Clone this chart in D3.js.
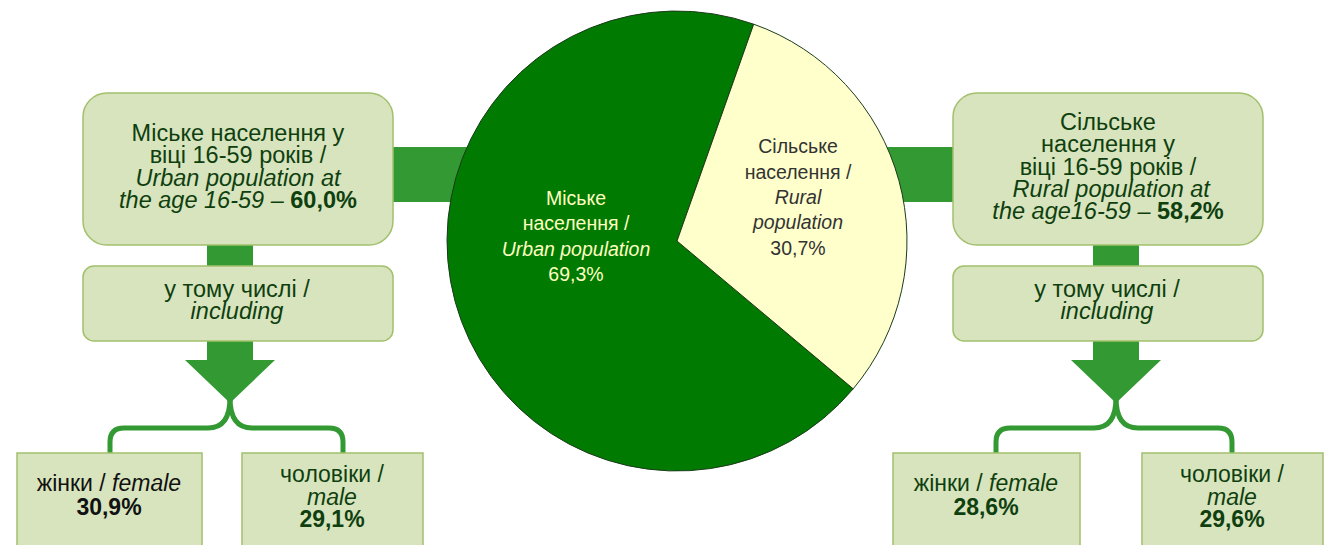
<!DOCTYPE html>
<html>
<head>
<meta charset="utf-8">
<script src="https://cdn.jsdelivr.net/npm/d3@7"></script>
<style>
    body { margin: 0; background: #fff; }
    svg { display: block; font-family: "Liberation Sans", Arial, sans-serif; }
</style>
</head>
<body>
<div id="chart"></div>
<script>
// pie: share of urban / rural population
var pieCategories = ["urban", "rural"];
var pieLabels = [
    [["Міське", "n"], ["населення /", "n"], ["Urban population", "i"]],
    [["Сільське", "n"], ["населення /", "n"], ["Rural", "i"], ["population", "i"]]
];
var pieValues = [69.3, 30.7];

// side panels: population aged 16-59, then split by sex
var ageShare = [60.0, 58.2];
var femaleShare = [30.9, 28.6];
var maleShare = [29.1, 29.6];
var ageTitles = [
    [[["Міське населення у", "n"]], [["віці 16-59 років /", "n"]], [["Urban population at", "i"]], [["the age 16-59 – ", "i"]]],
    [[["Сільське", "n"]], [["населення у", "n"]], [["віці 16-59 років /", "n"]], [[" Rural population at", "i"]], [["the age16-59  – ", "i"]]]
];
var includingText = [[["у тому числі /", "n"]], [["including", "i"]]];
var femaleText = [["жінки / ", "n"], ["female", "i"]];
var maleText = [[["чоловіки /", "n"]], [["male", "i"]]];

var fmt = function(v){ return d3.format(".1f")(v).replace(".", ",") + "%"; };

var width = 1330, height = 545;
var green = "#339933", boxFill = "#d7e4bd", boxStroke = "#a3c06d", textColor = "#0f3f0f";
var boxFont = 23.5;

var svg = d3.select("#chart")
    .append("svg")
        .attr("width", width)
        .attr("height", height);

// layout of the two side panels
var panels = [
    { boxX: 83, boxW: 310, stem: 230, fem: [17, 185], mal: [242, 181], femTx: 109, malTx: 332, brL: 110, brR: 343, femColor: "#111" },
    { boxX: 953, boxW: 310, stem: 1116, fem: [893, 187], mal: [1142, 181], femTx: 986, malTx: 1232, brL: 996, brR: 1232, femColor: textColor }
];

var pieCx = 677, pieCy = 241, pieR = 230;

// horizontal bars linking pie and panels (drawn under the pie)
svg.append("rect").attr("x", panels[0].boxX + panels[0].boxW).attr("y", 147)
    .attr("width", pieCx - (panels[0].boxX + panels[0].boxW)).attr("height", 55).attr("fill", green);
svg.append("rect").attr("x", pieCx).attr("y", 147)
    .attr("width", panels[1].boxX - pieCx).attr("height", 55).attr("fill", green);

function addLines(g, lines, x, y0, lh, size, color){
    var t = g.append("text")
        .attr("x", x)
        .attr("text-anchor", "middle")
        .attr("font-size", size)
        .attr("fill", color);
    lines.forEach(function(line, i){
        line.forEach(function(seg, j){
            var s = t.append("tspan").text(seg[0])
                .attr("font-style", seg[1] == "i" ? "italic" : "normal")
                .attr("font-weight", seg[1] == "b" ? "bold" : "normal");
            if (j == 0) s.attr("x", x).attr("y", y0 + i * lh);
        });
    });
    return t;
}

panels.forEach(function(p, k){
    var g = svg.append("g");
    var cx = p.boxX + p.boxW / 2;

    // stem from top box down to "including" box
    g.append("rect").attr("x", p.stem - 23).attr("y", 240).attr("width", 46).attr("height", 30).attr("fill", green);

    // big arrow below "including"
    g.append("path")
        .attr("d", "M" + (p.stem - 23) + ",338 V360 H" + (p.stem - 45) + " L" + p.stem + ",403 L" + (p.stem + 45) + ",360 H" + (p.stem + 23) + " V338 Z")
        .attr("fill", green);

    // split brackets
    g.append("path")
        .attr("d", "M" + p.stem + ",398 Q" + p.stem + ",428 " + (p.stem - 22) + ",428 H" + (p.brL + 14) + " Q" + p.brL + ",428 " + p.brL + ",442 V456")
        .attr("fill", "none").attr("stroke", green).attr("stroke-width", 5);
    g.append("path")
        .attr("d", "M" + p.stem + ",398 Q" + p.stem + ",428 " + (p.stem + 22) + ",428 H" + (p.brR - 14) + " Q" + p.brR + ",428 " + p.brR + ",442 V456")
        .attr("fill", "none").attr("stroke", green).attr("stroke-width", 5);

    // top box
    g.append("rect")
        .attr("x", p.boxX).attr("y", 93).attr("width", p.boxW).attr("height", 152)
        .attr("rx", 24)
        .attr("fill", boxFill).attr("stroke", boxStroke).attr("stroke-width", 1.5);
    var title = ageTitles[k].map(function(l){ return l.slice(); });
    title[title.length - 1] = title[title.length - 1].concat([[fmt(ageShare[k]), "b"]]);
    var n = title.length;
    addLines(g, title, cx, 174.5 - (n - 1) * 22.4 / 2, 22.4, boxFont, textColor);

    // including box
    g.append("rect")
        .attr("x", p.boxX).attr("y", 266).attr("width", p.boxW).attr("height", 75)
        .attr("rx", 11)
        .attr("fill", boxFill).attr("stroke", boxStroke).attr("stroke-width", 1.5);
    addLines(g, includingText, p.boxX + 154, 297, 21.5, boxFont, textColor);

    // female / male boxes
    g.append("rect").attr("x", p.fem[0]).attr("y", 453).attr("width", p.fem[1]).attr("height", 120)
        .attr("fill", boxFill).attr("stroke", boxStroke).attr("stroke-width", 1.5);
    g.append("rect").attr("x", p.mal[0]).attr("y", 453).attr("width", p.mal[1]).attr("height", 120)
        .attr("fill", boxFill).attr("stroke", boxStroke).attr("stroke-width", 1.5);
    addLines(g, [femaleText, [[fmt(femaleShare[k]), "b"]]], p.femTx, 491, 24, boxFont - 0.5, p.femColor);
    addLines(g, maleText.concat([[[fmt(maleShare[k]), "b"]]]), p.malTx, 482, 22.5, boxFont - 0.5, textColor);
});

// pie
var startA = 130 * Math.PI / 180;
var pie = d3.pie().sort(null).startAngle(startA).endAngle(startA + 2 * Math.PI);
var arc = d3.arc().innerRadius(0).outerRadius(pieR);
var pieColor = d3.scaleOrdinal().domain(pieCategories).range(["#007a00", "#ffffcc"]);
var labelColor = d3.scaleOrdinal().domain(pieCategories).range(["#ffffc0", "#333"]);
var labelPos = { urban: [-101, -4], rural: [121, -43] };

var pieG = svg.append("g").attr("transform", "translate(" + pieCx + "," + pieCy + ")");
var arcs = pie(pieValues);

pieG.selectAll("path")
    .data(arcs)
    .enter()
    .append("path")
        .attr("d", arc)
        .attr("fill", function(d, i){ return pieColor(pieCategories[i]); })
        .attr("stroke", "#1b3b1b")
        .attr("stroke-width", 1);

pieCategories.forEach(function(c, i){
    var lines = pieLabels[i].map(function(s){ return [s]; }).concat([[[fmt(pieValues[i]), "n"]]]);
    var lh = 25.3;
    var y0 = labelPos[c][1] - (lines.length - 1) * lh / 2 + 6;
    addLines(pieG, lines, labelPos[c][0], y0, lh, 19.5, labelColor(c));
});
</script>
</body>
</html>
